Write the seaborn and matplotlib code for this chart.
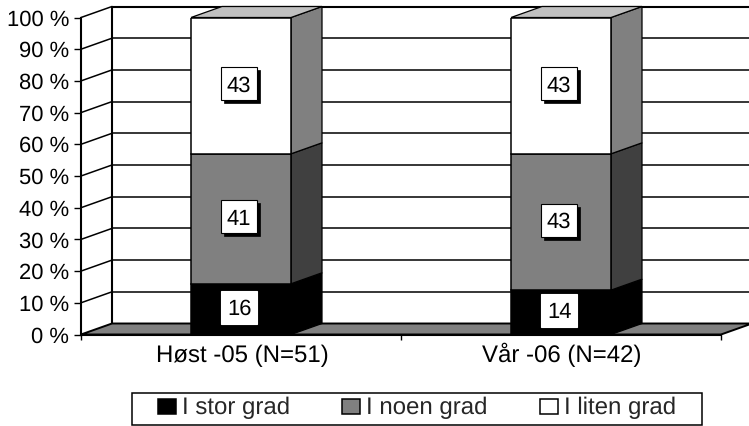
import matplotlib
matplotlib.use("Agg")
import matplotlib.pyplot as plt
import matplotlib.transforms as mtrans
from matplotlib.patches import Polygon, Rectangle
import numpy as np
import pandas as pd
import seaborn as sns

categories = ["Høst -05 (N=51)", "Vår -06 (N=42)"]
series_names = ["I stor grad", "I noen grad", "I liten grad"]
stor = [16, 14]
noen = [41, 43]
liten = [43, 43]
front_colors = ["#000000", "#808080", "#FFFFFF"]
side_colors = ["#000000", "#404040", "#808080"]
top_color = "#C0C0C0"
y_ticks = list(range(0, 101, 10))

W, H = 749, 426
sns.set_theme(style="white")
plt.rcParams["font.family"] = ["Liberation Sans", "DejaVu Sans"]
plt.rcParams["text.hinting"] = "no_hinting"
plt.rcParams["text.hinting_factor"] = 1
FS_TICK = 15.5
FS_CAT = 17
FS_LEG = 17
FS_LAB = 15.5

fig = plt.figure(figsize=(W / 100, H / 100), dpi=100, facecolor="white")
L, R, T, B = 81, 721, 17.5, 334.5
ax = fig.add_axes([L / W, 1 - B / H, (R - L) / W, (B - T) / H])
ax.patch.set_visible(False)

bar_w = 100 / 320
dx = 31 / 320
dy = 11 / ((B - T) / 100)

bottom = np.zeros(2)
for name, vals, fc in zip(series_names, [stor, noen, liten], front_colors):
    df = pd.DataFrame({"cat": categories, "val": vals})
    sns.barplot(data=df, x="cat", y="val", bottom=bottom, color=fc, saturation=1,
                width=bar_w, edgecolor="black", linewidth=1.1, label=name, ax=ax, zorder=3)
    bottom = bottom + np.array(vals)

ax.set_xlim(-0.5, 1.5)
ax.set_ylim(0, 100)
x0, x1 = -0.5, 1.5

# back wall, left wall, floor
for t in y_ticks[1:]:
    ax.plot([x0 + dx, x1 + dx], [t + dy, t + dy], color="black", lw=1.1 if t < 100 else 1.5,
            clip_on=False, zorder=1, solid_capstyle="butt")
    ax.plot([x0, x0 + dx], [t, t + dy], color="black", lw=1.1, clip_on=False, zorder=1)
ax.plot([x0 + dx, x0 + dx], [dy, 100 + dy], color="black", lw=1.5, clip_on=False, zorder=1)
ax.add_patch(Polygon([(x0, 0), (x1, 0), (x1 + dx, dy), (x0 + dx, dy)], closed=True,
                     facecolor="#808080", edgecolor="black", lw=1.4, clip_on=False, zorder=1.5))

# bar depth faces
for i in range(2):
    cx = i
    lo = 0
    for vals, sc in zip([stor, noen, liten], side_colors):
        hi = lo + vals[i]
        xr = cx + bar_w / 2
        ax.add_patch(Polygon([(xr, lo), (xr + dx, lo + dy), (xr + dx, hi + dy), (xr, hi)], closed=True,
                             facecolor=sc, edgecolor="black", lw=0.9, clip_on=False, zorder=2.5))
        lo = hi
    xl = cx - bar_w / 2
    ax.add_patch(Polygon([(xl, 100), (xl + bar_w, 100), (xl + bar_w + dx, 100 + dy), (xl + dx, 100 + dy)],
                         closed=True, facecolor=top_color, edgecolor="black", lw=0.9,
                         clip_on=False, zorder=2.5))

# data labels
def label(x, y, val, shadow):
    tr = mtrans.Affine2D() + mtrans.ScaledTranslation(x, y, ax.transData)
    w, h = 36, 33
    if shadow:
        ax.add_patch(Rectangle((-w / 2 + 3, -h / 2 - 3), w, h, transform=tr, facecolor="black",
                               edgecolor="black", lw=0.5, clip_on=False, zorder=4))
    ax.add_patch(Rectangle((-w / 2, -h / 2), w, h, transform=tr, facecolor="white",
                           edgecolor="black" if shadow else "white", lw=0.8, clip_on=False, zorder=5))
    ax.text(x, y, str(val), ha="center", va="center_baseline", fontsize=FS_LAB, color="black", zorder=6)

for i in range(2):
    lo = 0
    for vals, sh in zip([stor, noen, liten], [False, True, True]):
        label(i - 0.006, lo + vals[i] / 2 + 0.6, vals[i], sh)
        lo += vals[i]

# axes
ax.set_xlabel("")
ax.set_ylabel("")
ax.set_yticks(y_ticks)
ax.set_yticklabels([f"{t} %" for t in y_ticks])
ax.set_xticks([-0.5, 0.5, 1.5])
ax.set_xticklabels([])
ax.set_xticks([0.003, 1.003], categories, minor=True)
ax.tick_params(axis="y", which="major", left=True, length=5, width=1, color="black", pad=3.5,
               labelsize=FS_TICK, labelcolor="black")
ax.tick_params(axis="x", which="major", bottom=True, length=3.5, width=1, color="black")
ax.tick_params(axis="x", which="minor", bottom=False, length=0, pad=20, labelsize=FS_CAT, labelcolor="black")
for t in ax.get_xticklabels(minor=True):
    t.set_va("baseline")
for s in ["top", "right"]:
    ax.spines[s].set_visible(False)
for s in ["left", "bottom"]:
    ax.spines[s].set_color("black")
    ax.spines[s].set_linewidth(1.5)
    ax.spines[s].set_zorder(2)

# legend
handles, labels = ax.get_legend_handles_labels()
if ax.get_legend() is not None:
    ax.get_legend().remove()
fig.add_artist(Rectangle((132 / W, 1 - 424.5 / H), (702 - 132) / W, 32 / H, transform=fig.transFigure,
                         facecolor="white", edgecolor="black", lw=1.1))
leg = fig.legend(handles, labels, loc="upper left", bbox_to_anchor=(157.5 / W, 1 - 397 / H),
                 bbox_transform=fig.transFigure, ncol=3, frameon=False, fontsize=FS_LEG,
                 handlelength=0.77, handleheight=0.6, handletextpad=0.26, columnspacing=2.2,
                 borderaxespad=0, borderpad=0)

fig.savefig("out.png", dpi=100, facecolor="white")
